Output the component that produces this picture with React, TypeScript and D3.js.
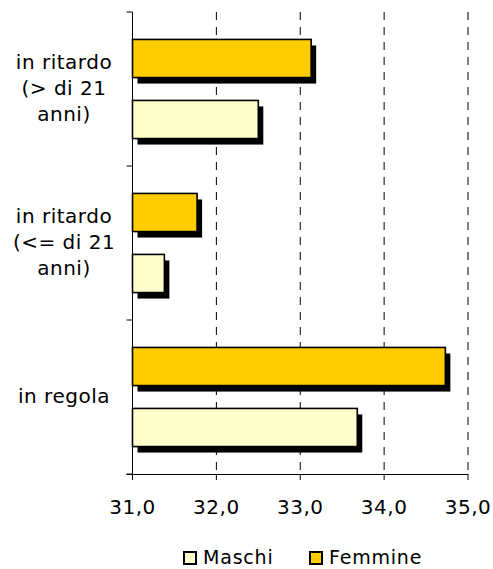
import React from "react";
import * as d3 from "d3";

const categories = [
  ["in ritardo", "(> di 21", "anni)"],
  ["in ritardo", "(<= di 21", "anni)"],
  ["in regola"],
];
const categoryKeys = ["ritardo_gt21", "ritardo_le21", "regola"];
const seriesNames = ["Femmine", "Maschi"];
const femmine = [33.13, 31.77, 34.73];
const maschi = [32.5, 31.38, 33.68];
const xTicks = [31, 32, 33, 34, 35];
const legendNames = ["Maschi", "Femmine"];

const colors: Record<string, string> = { Maschi: "#FFFFCC", Femmine: "#FFCC00" };

const W = 493;
const H = 569;
const left = 132.5;
const right = 468;
const top = 12;
const bottom = 474;
const FONT = "'DejaVu Sans', Verdana, sans-serif";

export default function App() {
  const x = d3.scaleLinear().domain([31, 35]).range([left, right]);
  const y = d3.scaleBand<string>().domain(categoryKeys).range([top, bottom]).padding(0);
  const inner = d3
    .scaleBand<string>()
    .domain(seriesNames)
    .range([0, y.bandwidth()])
    .paddingInner(0.375)
    .paddingOuter(0.45);
  const values: Record<string, number[]> = { Femmine: femmine, Maschi: maschi };
  const fmt = (v: number) => v.toFixed(1).replace(".", ",");
  const bandEdges = [...categoryKeys.map((k) => y(k)!), bottom];

  return (
    <svg
      width={W}
      height={H}
      style={{ position: "absolute", left: 0, top: 0, background: "#fff" }}
      fontFamily={FONT}
    >
      {/* gridlines */}
      {xTicks.slice(1).map((t) => (
        <line
          key={"g" + t}
          x1={x(t)}
          x2={x(t)}
          y1={top}
          y2={bottom}
          stroke="#000"
          strokeWidth={1}
          strokeDasharray="8,7"
        />
      ))}
      {/* bars */}
      {categoryKeys.map((k, ci) =>
        seriesNames.map((s) => {
          const by = y(k)! + inner(s)!;
          const bw = x(values[s][ci]) - x(31);
          const bh = inner.bandwidth();
          return (
            <g key={k + s}>
              <rect x={x(31) + 5} y={by + 6} width={bw} height={bh} fill="#000" />
              <rect
                x={x(31)}
                y={by}
                width={bw}
                height={bh}
                fill={colors[s]}
                stroke="#000"
                strokeWidth={1.6}
              />
            </g>
          );
        })
      )}
      {/* y axis */}
      <line x1={left} x2={left} y1={top} y2={bottom} stroke="#000" strokeWidth={1} />
      {bandEdges.map((e, i) => (
        <line key={"yt" + i} x1={left - 6} x2={left} y1={e} y2={e} stroke="#000" strokeWidth={1} />
      ))}
      {/* x axis */}
      <line x1={left - 6} x2={right} y1={bottom + 0.5} y2={bottom + 0.5} stroke="#000" strokeWidth={1} />
      {xTicks.map((t) => (
        <g key={"xt" + t}>
          <line x1={x(t)} x2={x(t)} y1={bottom} y2={bottom + 6} stroke="#000" strokeWidth={1} />
          <text
            x={x(t)}
            y={514}
            textAnchor="middle"
            fontSize={20}
            letterSpacing={0.5}
            fill="#000"
          >
            {fmt(t)}
          </text>
        </g>
      ))}
      {/* category labels */}
      {categoryKeys.map((k, ci) => {
        const lines = categories[ci];
        const c = y(k)! + y.bandwidth() / 2;
        return (
          <text key={"cl" + k} textAnchor="middle" fontSize={20} letterSpacing={0.5} fill="#000">
            {lines.map((ln, li) => (
              <tspan key={li} x={64} y={c + (li - (lines.length - 1) / 2) * 26 + 6}>
                {ln}
              </tspan>
            ))}
          </text>
        );
      })}
      {/* legend */}
      {legendNames.map((n, i) => {
        const lx = i === 0 ? 183 : 309;
        return (
          <g key={"lg" + n}>
            <rect x={lx + 1} y={552} width={12} height={12} fill={colors[n]} stroke="#000" strokeWidth={2} />
            <text x={lx + 20} y={564} fontSize={19} letterSpacing={0.8} fill="#000">
              {n}
            </text>
          </g>
        );
      })}
    </svg>
  );
}
